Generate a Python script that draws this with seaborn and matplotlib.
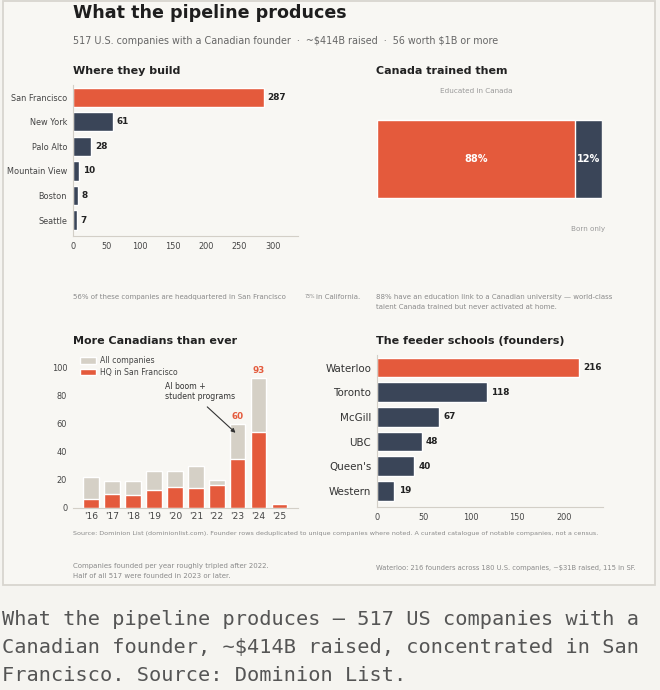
import matplotlib
matplotlib.use("Agg")
import matplotlib.pyplot as plt
from matplotlib.patches import Rectangle
import seaborn as sns

# ==========================================
# Data
# ==========================================
cities = ["San Francisco", "New York", "Palo Alto", "Mountain View", "Boston", "Seattle"]
city_counts = [287, 61, 28, 10, 8, 7]

educated_pct = 88
born_only_pct = 12

years = ["'16", "'17", "'18", "'19", "'20", "'21", "'22", "'23", "'24", "'25"]
all_companies = [22, 19, 19, 26, 26, 30, 20, 60, 93, 3]
hq_sf = [6, 10, 9, 13, 15, 14, 16, 35, 54, 3]
labelled_years = ["'23", "'24"]

schools = ["Waterloo", "Toronto", "McGill", "UBC", "Queen's", "Western"]
school_counts = [216, 118, 67, 48, 40, 19]

# ==========================================
# Style
# ==========================================
ORANGE = "#e45a3c"
NAVY = "#3a4558"
GREY = "#d5d0c6"
CARD = "#f8f7f3"
PAGE = "#f5f4f0"
SPINE = "#d3cfc7"

sns.set_style("white")
plt.rcParams["font.family"] = ["DejaVu Sans"]
plt.rcParams["axes.facecolor"] = "none"

W, H = 660, 690
fig = plt.figure(figsize=(W / 100, H / 100), dpi=100, facecolor=PAGE)


def box(x0, y0, x1, y1):
    return [x0 / W, 1 - y1 / H, (x1 - x0) / W, (y1 - y0) / H]


def ftext(x, y, s, **kw):
    kw.setdefault("va", "center")
    fig.text(x / W, 1 - y / H, s, **kw)


def style_axis(ax, tick_size=5.9, left=True):
    for side in ["top", "right"]:
        ax.spines[side].set_visible(False)
    ax.spines["bottom"].set_color(SPINE)
    ax.spines["bottom"].set_linewidth(0.8)
    ax.spines["left"].set_color(SPINE)
    ax.spines["left"].set_linewidth(0.8)
    ax.spines["left"].set_visible(left)
    ax.tick_params(length=2.5, width=0.6, color="#b5b1a9", labelsize=tick_size,
                   labelcolor="#444444", pad=1.5)
    ax.set_xlabel("")
    ax.set_ylabel("")


# card
fig.patches.append(Rectangle((2.5 / W, 1 - 584.5 / H), 652 / W, 584 / H,
                             transform=fig.transFigure, facecolor=CARD,
                             edgecolor="#d8d5cf", linewidth=1.3, zorder=-5))

# ==========================================
# Titles
# ==========================================
ftext(73, 13, "What the pipeline produces", fontsize=12.6, fontweight="bold", color="#1e1e1e")
ftext(73, 41, "517 U.S. companies with a Canadian founder  ·  ~\\$414B raised  ·  56 worth \\$1B or more",
      fontsize=6.9, color="#666666")
ftext(73, 71, "Where they build", fontsize=8, fontweight="bold", color="#222222")
ftext(376.5, 71, "Canada trained them", fontsize=8, fontweight="bold", color="#222222")
ftext(73, 341, "More Canadians than ever", fontsize=8, fontweight="bold", color="#222222")
ftext(376.5, 341, "The feeder schools (founders)", fontsize=8, fontweight="bold", color="#222222")

# ==========================================
# Where they build
# ==========================================
ax1 = fig.add_axes(box(72.7, 85, 298.3, 236))
city_colors = [ORANGE] + [NAVY] * (len(cities) - 1)
sns.barplot(x=city_counts, y=cities, hue=cities, palette=city_colors, legend=False,
            saturation=1, width=0.78, orient="h", ax=ax1)
ax1.set_xlim(0, 338)
ax1.set_ylim(5.65, -0.5)
ax1.set_xticks([0, 50, 100, 150, 200, 250, 300])
style_axis(ax1)
for c in ax1.containers:
    ax1.bar_label(c, padding=2.5, fontsize=6.4, fontweight="bold", color="#222222")

# ==========================================
# Canada trained them
# ==========================================
ax2 = fig.add_axes(box(376.7, 110.3, 602, 207.4))
sns.barplot(x=[educated_pct + born_only_pct], y=["share"], color=NAVY, saturation=1,
            width=0.8, orient="h", ax=ax2)
sns.barplot(x=[educated_pct], y=["share"], color=ORANGE, saturation=1,
            width=0.8, orient="h", ax=ax2)
ax2.set_xlim(0, 100)
ax2.set_ylim(0.5, -0.5)
ax2.axis("off")
ax2.text(educated_pct / 2, 0, f"{educated_pct}%", ha="center", va="center",
         fontsize=7, fontweight="bold", color="white")
ax2.text(educated_pct + born_only_pct / 2, 0, f"{born_only_pct}%", ha="center", va="center",
         fontsize=7, fontweight="bold", color="white")
ax2.text(educated_pct / 2, -0.70, "Educated in Canada", ha="center", va="center",
         fontsize=5.2, color="#9a9a9a", clip_on=False)
ax2.text(101.6, 0.725, "Born only", ha="right", va="center",
         fontsize=5.2, color="#9a9a9a", clip_on=False)

# footnotes
ftext(73, 297, "56% of these companies are headquartered in San Francisco", fontsize=5, color="#8a8a8a")
ftext(305, 296, "73%", fontsize=3.4, color="#8a8a8a")
ftext(315.5, 297, "in California.", fontsize=5, color="#8a8a8a")
ftext(376.5, 297, "88% have an education link to a Canadian university — world-class",
      fontsize=5, color="#8a8a8a")
ftext(376.5, 307, "talent Canada trained but never activated at home.", fontsize=5, color="#8a8a8a")

# ==========================================
# More Canadians than ever
# ==========================================
ax3 = fig.add_axes(box(72.7, 355.1, 298.3, 507.7))
sns.barplot(x=years, y=all_companies, color=GREY, saturation=1, width=0.75,
            label="All companies", ax=ax3)
sns.barplot(x=years, y=hq_sf, color=ORANGE, saturation=1, width=0.75,
            label="HQ in San Francisco", ax=ax3)
ax3.set_xlim(-0.88, 9.9)
ax3.set_ylim(0, 109)
ax3.set_yticks([0, 20, 40, 60, 80, 100])
style_axis(ax3, left=False)
ax3.tick_params(axis="x", labelsize=6.6, length=0, pad=3)
for i, yr in enumerate(years):
    if yr in labelled_years:
        ax3.text(i, all_companies[i] + 2, str(all_companies[i]), ha="center", va="bottom",
                 fontsize=6.3, fontweight="bold", color=ORANGE)
ax3.legend(loc="upper left", bbox_to_anchor=(0.0, 1.04), frameon=False, fontsize=5.6,
           handlelength=2.1, handleheight=0.9, handletextpad=0.5, labelspacing=0.35,
           labelcolor="#444444")
ax3.text(3.52, 83, "AI boom +\nstudent programs", ha="left", va="center", fontsize=5.6,
         color="#333333", linespacing=1.1)
ax3.annotate("", xy=(6.9, 53.5), xytext=(5.55, 72),
             arrowprops=dict(arrowstyle="-|>", color="#333333", lw=0.8,
                             mutation_scale=6, shrinkA=0, shrinkB=0))

# ==========================================
# The feeder schools
# ==========================================
ax4 = fig.add_axes(box(376.7, 355.2, 603.3, 507))
school_colors = [ORANGE] + [NAVY] * (len(schools) - 1)
sns.barplot(x=school_counts, y=schools, hue=schools, palette=school_colors, legend=False,
            saturation=1, width=0.8, orient="h", ax=ax4)
ax4.set_xlim(0, 242)
ax4.set_ylim(5.65, -0.5)
ax4.set_xticks([0, 50, 100, 150, 200])
style_axis(ax4)
ax4.tick_params(axis="y", labelsize=7.4, labelcolor="#333333")
for c in ax4.containers:
    ax4.bar_label(c, padding=3, fontsize=6.4, fontweight="bold", color="#222222")

# ==========================================
# Source and notes
# ==========================================
ftext(73, 533, "Source: Dominion List (dominionlist.com). Founder rows deduplicated to unique companies "
      "where noted. A curated catalogue of notable companies, not a census.",
      fontsize=4.6, color="#8a8a8a")
ftext(73, 566, "Companies founded per year roughly tripled after 2022.", fontsize=5, color="#8a8a8a")
ftext(73, 576, "Half of all 517 were founded in 2023 or later.", fontsize=5, color="#8a8a8a")
ftext(376.5, 568, "Waterloo: 216 founders across 180 U.S. companies, ~\\$31B raised, 115 in SF.",
      fontsize=4.85, color="#8a8a8a")

# caption
caption = ("What the pipeline produces — 517 US companies with a\n"
           "Canadian founder, ~\\$414B raised, concentrated in San\n"
           "Francisco. Source: Dominion List.")
fig.text(2 / W, 1 - 610 / H, caption, fontsize=14.6, family="DejaVu Sans Mono",
         color="#555555", va="top", ha="left", linespacing=1.6)

fig.savefig("out.png", dpi=100, facecolor=PAGE)
